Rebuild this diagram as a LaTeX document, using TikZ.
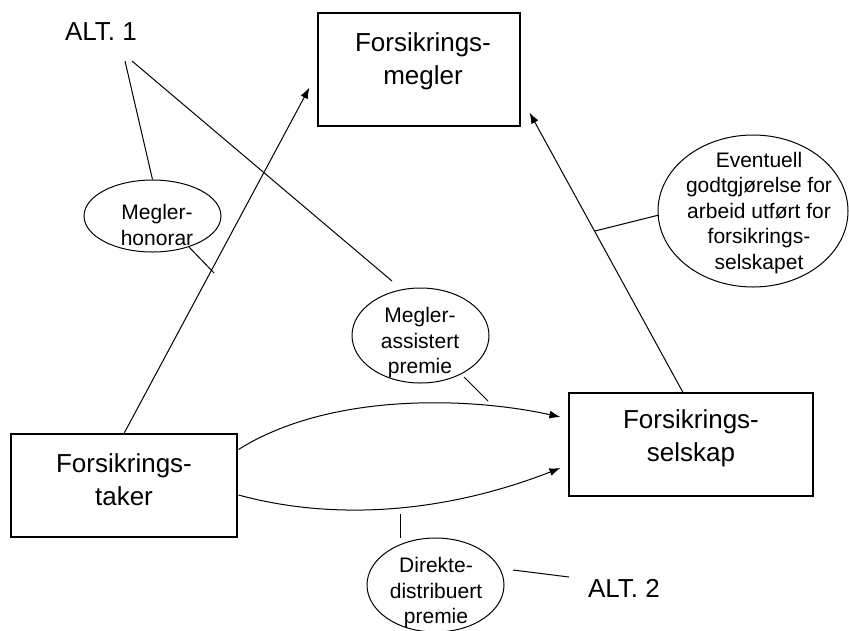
\documentclass[tikz,border=0pt]{standalone}
\usepackage{fontspec}
\setmainfont{Liberation Sans}
\usetikzlibrary{shapes.geometric,arrows.meta,calc}
\tikzset{
  box/.style={draw, rectangle, line width=1.1pt, inner sep=0pt},
  bubble/.style={draw, ellipse, line width=1pt, inner sep=0pt},
  bigtext/.style={font=\fontsize{26}{33}\selectfont, align=center, inner sep=0pt},
  smalltext/.style={font=\fontsize{21}{25.5}\selectfont, align=center, inner sep=0pt},
  conn/.style={line width=1pt},
  arr/.style={conn, -{Latex[length=11pt,width=8pt]}}
}
\begin{document}
\begin{tikzpicture}[x=1pt,y=-1pt]
\useasboundingbox (0,0) rectangle (849,630);
\fill[white] (0,0) rectangle (849,630);

% boxes
\node[box, minimum width=202pt, minimum height=113pt] (megler) at (419,69.5) {};
\node[bigtext] (meglertxt) at (423,61.5) {Forsikrings-\\megler};
\node[box, minimum width=226pt, minimum height=103pt] (taker) at (124,485.5) {};
\node[bigtext] (takertxt) at (124,480) {Forsikrings-\\taker};
\node[box, minimum width=244pt, minimum height=103pt] (selskap) at (691,444.5) {};
\node[bigtext] (selskaptxt) at (691,438) {Forsikrings-\\selskap};

% labels
\node[bigtext] (alt1) at (101,32) {ALT. 1};
\node[bigtext] (alt2) at (624,588) {ALT. 2};

% bubbles
\node[bubble, minimum width=137pt, minimum height=72pt] (honorar) at (152.5,216) {};
\node[smalltext] (honorartxt) at (157,225) {Megler-\\honorar};
\node[bubble, minimum width=137pt, minimum height=95pt] (assist) at (420.5,335.5) {};
\node[smalltext] (assisttxt) at (420,343) {Megler-\\assistert\\premie};
\node[bubble, minimum width=190pt, minimum height=152pt] (event) at (753,211) {};
\node[smalltext] (eventtxt) at (759,213) {Eventuell\\godtgjørelse for\\arbeid utført for\\forsikrings-\\selskapet};
\node[bubble, minimum width=137pt, minimum height=94pt] (direkte) at (435.5,585) {};
\node[smalltext] (direktetxt) at (436,593) {Direkte-\\distribuert\\premie};

% main arrows
\draw[arr] (taker.north) -- ($(megler.south west)+(-8,-39)$);
\draw[arr] ($(selskap.north)+(-8,0)$) -- ($(megler.south east)+(9,-14)$);
\draw[arr] ($(taker.north east)+(1,16)$) .. controls (330,392) and (470,397) .. ($(selskap.west)+(-8,-27.5)$);
\draw[arr] ($(taker.east)+(1,9.5)$) .. controls (330,520) and (440,515) .. ($(selskap.west)+(-8,23.5)$);

% pointer lines
\coordinate (a1a) at (125,61);
\coordinate (a1b) at (132,61);
\coordinate (a1end) at (392,281);
\coordinate (hpA) at (189,247);
\coordinate (hpB) at (214,273);
\coordinate (apA) at (464,377);
\coordinate (apB) at (488,401);
\coordinate (epA) at (659,215);
\coordinate (epB) at (595,231);
\coordinate (dpA) at (400,514);
\coordinate (a2A) at (513,570);
\coordinate (a2B) at (569,577);

\draw[conn] (a1a) -- (honorar.north);
\draw[conn] (a1b) -- (a1end);
\draw[conn] (hpA) -- (hpB);
\draw[conn] (apA) -- (apB);
\draw[conn] (epA) -- (epB);
\draw[conn] (dpA) -- (dpA |- direkte.north);
\draw[conn] (a2A) -- (a2B);
\end{tikzpicture}
\end{document}
